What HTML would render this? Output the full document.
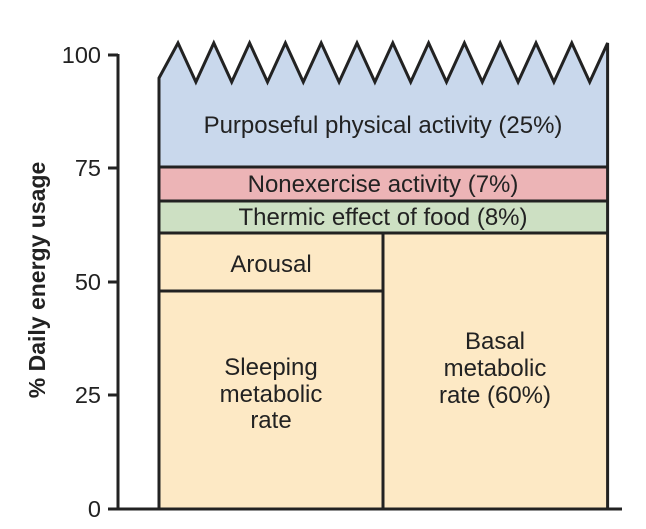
<!DOCTYPE html>
<html><head><style>body{margin:0;background:#fff}svg{display:block}</style></head><body>
<svg width="646" height="529" viewBox="0 0 646 529" xmlns="http://www.w3.org/2000/svg" font-family="Liberation Sans, sans-serif">
<path d="M159,509 L159,78 L178,43 L195.9,82 L213.8,43 L231.7,82 L249.6,43 L267.5,82 L285.4,43 L303.3,82 L321.2,43 L339.1,82 L357,43 L374.9,82 L392.8,43 L410.7,82 L428.6,43 L446.5,82 L464.4,43 L482.3,82 L500.2,43 L518.1,82 L536,43 L553.9,82 L571.8,43 L589.7,82 L607.6,43 L607.6,509 Z" fill="#c9d8ec"/>
<rect x="159" y="167" width="448.6" height="34" fill="#ecb4b6"/>
<rect x="159" y="201" width="448.6" height="32" fill="#cde0c3"/>
<rect x="159" y="233" width="448.6" height="276" fill="#fde9c5"/>
<g stroke="#222" stroke-width="3" fill="none">
<path d="M159,509 L159,78 L178,43 L195.9,82 L213.8,43 L231.7,82 L249.6,43 L267.5,82 L285.4,43 L303.3,82 L321.2,43 L339.1,82 L357,43 L374.9,82 L392.8,43 L410.7,82 L428.6,43 L446.5,82 L464.4,43 L482.3,82 L500.2,43 L518.1,82 L536,43 L553.9,82 L571.8,43 L589.7,82 L607.6,43 L607.6,509"/>
<line x1="159" y1="167" x2="607.6" y2="167"/>
<line x1="159" y1="201" x2="607.6" y2="201"/>
<line x1="159" y1="233" x2="607.6" y2="233"/>
<line x1="383" y1="233" x2="383" y2="509"/>
<line x1="159" y1="291" x2="383" y2="291"/>
<line x1="118" y1="54" x2="118" y2="510"/>
<line x1="108" y1="509" x2="622" y2="509"/>
<line x1="108" y1="55" x2="118" y2="55"/>
<line x1="108" y1="168" x2="118" y2="168"/>
<line x1="108" y1="282" x2="118" y2="282"/>
<line x1="108" y1="395" x2="118" y2="395"/>
</g>
<g font-size="23.5" fill="#222" text-anchor="end">
<text x="101" y="63">100</text>
<text x="101" y="176">75</text>
<text x="101" y="290">50</text>
<text x="101" y="403">25</text>
<text x="101" y="517">0</text>
</g>
<text transform="translate(45,280) rotate(-90)" font-size="23" font-weight="bold" fill="#222" text-anchor="middle">% Daily energy usage</text>
<g font-size="24" fill="#222" text-anchor="middle">
<text x="383" y="133">Purposeful physical activity (25%)</text>
<text x="383" y="192">Nonexercise activity (7%)</text>
<text x="383" y="225">Thermic effect of food (8%)</text>
<text x="271" y="272">Arousal</text>
<text x="271" y="375">Sleeping</text>
<text x="271" y="402">metabolic</text>
<text x="271" y="428">rate</text>
<text x="495" y="349">Basal</text>
<text x="495" y="376">metabolic</text>
<text x="495" y="403">rate (60%)</text>
</g>
</svg>
</body></html>
